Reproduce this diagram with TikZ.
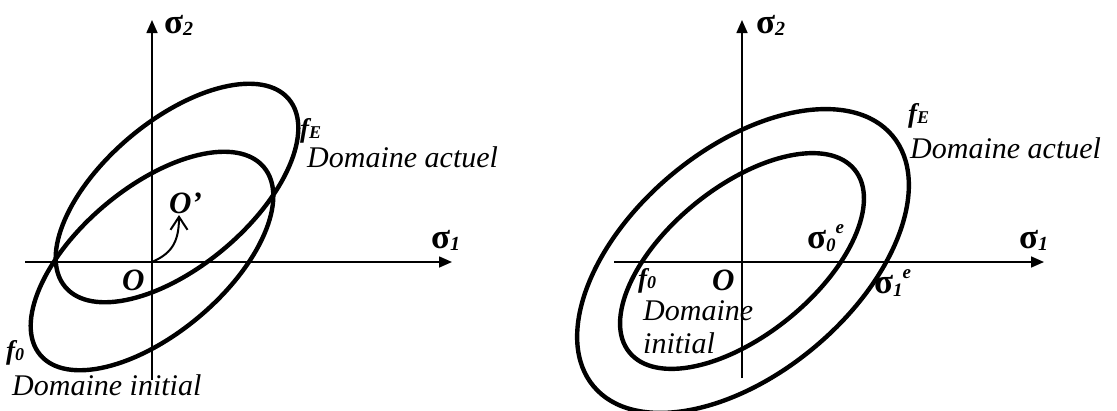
\documentclass[tikz,border=0pt]{standalone}
\usepackage{fontspec}
\setmainfont{Liberation Serif}
\usetikzlibrary{arrows.meta}
\newcommand\SgBig{{\fontsize{35}{38}\selectfont\bfseries σ}}
\newcommand\SubI[1]{\raisebox{-2pt}{\fontsize{20}{22}\selectfont\bfseries\itshape #1}}
\newcommand\SupSub[2]{\raisebox{-3pt}{\fontsize{19}{21}\selectfont\bfseries\itshape #1}\raisebox{15pt}{\fontsize{19}{21}\selectfont\bfseries\itshape #2}}
\newcommand\FF{{\fontsize{27}{30}\selectfont\bfseries\itshape f}}
\newcommand\FSub[1]{\raisebox{-1pt}{\fontsize{18}{20}\selectfont\bfseries\itshape #1}}
\begin{document}
\begin{tikzpicture}[x=1pt,y=-1pt,
  axis/.style={line width=1.6pt,-{Triangle[length=13pt,width=11pt]}},
  yield/.style={line width=4.4pt},
  lbl/.style={inner sep=0pt,anchor=base west},
  txt/.style={lbl,font=\fontsize{30}{34}\selectfont\itshape},
  bold/.style={lbl,font=\fontsize{31}{34}\selectfont\bfseries\itshape},
  move/.style={line width=2pt,-{Straight Barb[length=13pt,width=17pt,line width=2pt]}}
]
\clip (0,0) rectangle (1117,410);
% ---------- left panel ----------
\coordinate (LvB) at (152,380);
\coordinate (LvT) at (152,20);
\coordinate (LhL) at (25,262);
\coordinate (LhR) at (452,262);
\draw[axis] (LvB) -- (LvT);
\draw[axis] (LhL) -- (LhR);
\draw[yield,rotate around={40:(152,261)}] (152,261) ellipse [x radius=146pt, y radius=73pt];
\draw[yield,rotate around={40:(177,193)}] (177,193) ellipse [x radius=146pt, y radius=73pt];
\coordinate (O1) at (152,262);
\coordinate (Otip) at (179,215);
\draw[move] (O1) .. controls (170,254) and (179,244) .. (Otip);
\node[lbl] (s2L) at (164,33) {\SgBig\SubI{2}};
\node[lbl] (s1L) at (431,248) {\SgBig\SubI{1}};
\node[bold] (OL) at (122,290) {O};
\node[bold] (OpL) at (169,213) {O’};
\node[lbl] (fEL) at (300,137) {\FF\FSub{E}};
\node[txt] (DAL) at (307,167) {Domaine actuel};
\node[lbl] (f0L) at (6,359) {\FF\FSub{0}};
\node[txt] (DIL) at (12,395) {Domaine initial};
% ---------- right panel ----------
\coordinate (RvB) at (742,378);
\coordinate (RvT) at (742,20);
\coordinate (RhL) at (614,262);
\coordinate (RhR) at (1044,262);
\draw[axis] (RvB) -- (RvT);
\draw[axis] (RhL) -- (RhR);
\draw[yield,rotate around={39:(742,261)}] (742,261) ellipse [x radius=145pt, y radius=74pt];
\draw[yield,rotate around={40:(743,261)}] (743,261) ellipse [x radius=195pt, y radius=112pt];
\node[lbl] (s2R) at (756,33) {\SgBig\SubI{2}};
\node[lbl] (s1R) at (1019,248) {\SgBig\SubI{1}};
\node[lbl] (fER) at (908,122) {\FF\FSub{E}};
\node[txt] (DAR) at (910,158) {Domaine actuel};
\node[lbl] (s0e) at (807,248) {\SgBig\SupSub{0}{e}};
\node[lbl] (s1e) at (874,293) {\SgBig\SupSub{1}{e}};
\node[lbl] (f0R) at (638,287) {\FF\FSub{0}};
\node[bold] (OR) at (712,290) {O};
\node[txt] (DR) at (643,320) {Domaine};
\node[txt] (IR) at (643,353) {initial};
\end{tikzpicture}
\end{document}
